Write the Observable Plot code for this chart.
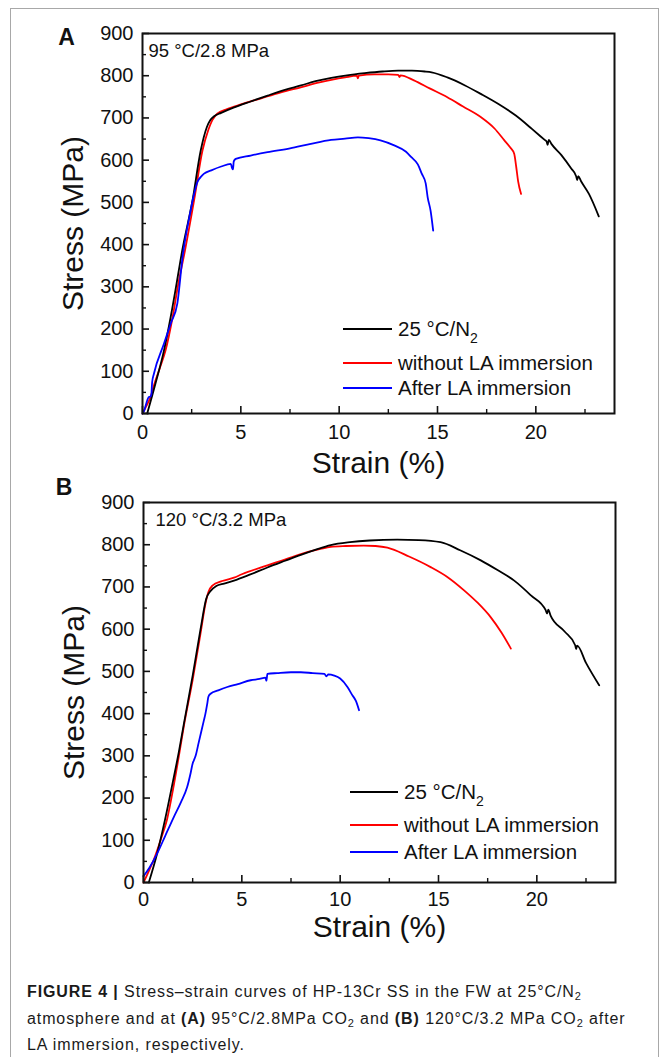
<!DOCTYPE html>
<html><head><meta charset="utf-8">
<script src="https://cdn.jsdelivr.net/npm/d3@7"></script>
<script src="https://cdn.jsdelivr.net/npm/@observablehq/plot@0.6"></script>
<style>
html,body{margin:0;padding:0;background:#fff;width:660px;height:1057px;overflow:hidden;}
#page{position:relative;width:660px;height:1057px;font-family:"Liberation Sans",Arial,sans-serif;color:#111;}
#frame{position:absolute;left:10px;top:8px;width:649px;height:1100px;border:1.5px solid #a8a8a8;box-sizing:border-box;}
.panel{position:absolute;left:0;}
.lg-line{position:absolute;height:2px;}
.lg-text{position:absolute;font-size:20.5px;line-height:20px;white-space:nowrap;color:#111;}
.lg-text sub{font-size:14px;vertical-align:-7px;line-height:0;}
#caption{position:absolute;left:27px;top:979px;width:630px;font-size:16px;line-height:26.5px;letter-spacing:0.9px;color:#1a1a1a;white-space:nowrap;}
#caption sub{font-size:11px;vertical-align:-3px;line-height:0;}
</style></head>
<body><div id="page"><div id="frame"></div></div>
<script>
// ---------- data ----------
const seriesKeys = ["25 °C/N2", "without LA immersion", "After LA immersion"];
const seriesColors = ["#000000", "#ff0000", "#0000ff"];
const panelLetters = ["A", "B"];
const conditionLabels = ["95 °C/2.8 MPa", "120 °C/3.2 MPa"];
const xTicks = [0, 5, 10, 15, 20];
const xMinor = [2.5, 7.5, 12.5, 17.5, 22.5];
const yTicks = [0, 100, 200, 300, 400, 500, 600, 700, 800, 900];
const yMinor = [50, 150, 250, 350, 450, 550, 650, 750, 850];
const xTitle = "Strain (%)";
const yTitle = "Stress (MPa)";

// Panel A
const strainA_N2 = [0.24,0.66,1.09,1.43,1.73,2.02,2.54,2.96,3.27,3.45,3.64,4.0,4.66,5.5,6.36,7.2,8.06,8.8,9.6,10.4,11.3,12.2,13.0,13.7,14.35,14.7,15.5,16.4,17.2,18.1,19.0,19.8,20.45,20.55,20.6,20.66,20.8,21.3,21.8,22.05,22.1,22.16,22.3,22.7,23.2];
const stressA_N2 = [0,71,149,228,307,386,504,623,678,695,704,712,725,739,753,766,777,787,795,801,806,810,812,812,810,808,796,777,757,733,705,674,648,644,636,648,638,612,580,562,553,562,550,520,467];
const strainA_without = [0,0.2,0.41,0.61,0.9,1.17,1.53,1.82,2.16,2.62,3.05,3.35,3.55,3.8,4.3,5.0,6.0,7.0,8.0,9.0,9.6,10.3,10.9,10.95,11.0,11.8,12.5,13.0,13.07,13.12,13.8,14.6,15.5,16.3,17.2,17.9,18.4,18.7,18.9,19.0,19.1,19.25];
const stressA_without = [0,18,39,71,110,149,228,307,386,504,623,672,695,710,721,732,746,760,772,784,790,796,800,794,800,803,803,802,797,801,789,770,749,727,702,675,647,630,615,585,550,520];
const strainA_after = [0,0.07,0.2,0.32,0.4,0.45,0.49,0.58,1.09,1.45,1.77,2.05,2.4,2.65,2.79,3.0,3.13,3.5,4.0,4.49,4.55,4.6,4.64,4.74,5.5,6.36,7.5,8.5,9.59,10.3,10.95,11.5,12.1,12.8,13.4,13.67,14.0,14.2,14.4,14.5,14.65,14.78];
const stressA_after = [0,5,25,39,40,45,74,94,165,215,260,375,470,525,548,562,568,576,585,591,582,578,597,603,611,619,628,638,648,651,654,652,647,635,620,607,590,568,545,512,480,433];

// Panel B
const strainB_N2 = [0.27,0.7,1.1,1.5,1.8,2.05,2.5,2.9,3.19,3.4,3.7,4.1,4.6,5.4,6.3,7.2,8.0,8.8,9.52,10.5,11.5,12.9,14.0,15.1,16.1,17.15,18.0,18.85,19.7,20.45,20.52,20.58,20.7,21.4,21.95,22.0,22.05,22.5,23.17];
const stressB_N2 = [0,70,150,240,310,375,490,600,672,690,702,708,715,729,746,762,776,789,799,806,810,812,811,806,787,763,740,715,680,645,637,646,632,595,562,553,561,520,467];
const strainB_without = [0,0.3,0.53,0.9,1.2,1.5,1.8,2.05,2.5,2.9,3.15,3.3,3.5,4.0,4.6,5.0,6.3,7.0,8.0,9.0,9.52,10.3,11.2,11.8,12.4,13.5,14.6,15.5,16.3,17.0,17.66,18.2,18.68];
const stressB_without = [0,30,55,105,150,220,300,370,480,590,660,688,703,714,722,730,751,762,778,790,795,797,798,797,793,772,747,722,692,662,628,592,554];
const strainB_after = [0,0.3,0.7,1.1,1.54,1.9,2.22,2.4,2.5,2.56,2.65,2.8,3.07,3.15,3.24,3.3,3.41,3.8,4.26,4.8,5.45,5.9,6.2,6.25,6.3,6.8,7.5,8.0,8.6,9.2,9.3,9.4,9.7,10.0,10.37,10.6,10.8,10.96];
const stressB_after = [15,35,69,110,155,190,226,260,282,289,300,330,384,400,423,440,447,455,463,470,479,482,485,478,494,496,498,498,496,494,488,493,490,483,463,445,430,408];

const panelsData = [
  [[strainA_N2, stressA_N2], [strainA_without, stressA_without], [strainA_after, stressA_after]],
  [[strainB_N2, stressB_N2], [strainB_without, stressB_without], [strainB_after, stressB_after]]
];

// ---------- layout ----------
const W = 660, H = 480, MT = 33, MB = 67;
const layouts = [
  {top: 0,   ml: 142, mr: 46, xTitleDy: 50, tickPad: 11, letterDx: -76, letterDy: -5,  condDx: 6,  condDy: 10,
   legLineX: 343, legLineW: 49, legTextX: 398, legY: [329, 363, 388]},
  {top: 469, ml: 143, mr: 45, xTitleDy: 45, tickPad: 9, letterDx: -79.5, letterDy: -24, condDx: 12, condDy: 10.5,
   legLineX: 350, legLineW: 48, legTextX: 404, legY: [792, 825, 851.5]}
];
const FONT = '"Liberation Sans", Arial, Helvetica, sans-serif';
const page = document.getElementById("page");

panelsData.forEach((series, p) => {
  const L = layouts[p];
  const innerW = W - L.ml - L.mr, innerH = H - MT - MB;
  const rows = series.map((s, i) => s[0].map((x, j) => ({strain: x, stress: s[1][j], series: seriesKeys[i]})));
  const lineOrder = [1, 0, 2];
  const chart = Plot.plot({
    width: W, height: H,
    marginLeft: L.ml, marginRight: L.mr, marginTop: MT, marginBottom: MB,
    x: {domain: [0, 24]},
    y: {domain: [0, 900]},
    color: {domain: seriesKeys, range: seriesColors},
    style: {fontFamily: FONT, fontSize: "20px", color: "#111", background: "transparent", overflow: "visible"},
    marks: [
      ...lineOrder.map(i => Plot.line(rows[i], {x: "strain", y: "stress", stroke: "series", strokeWidth: 1.8, strokeLinejoin: "round", curve: "monotone-x"})),
      Plot.tickX(xTicks, {x: d => d, insetTop: innerH - 7, stroke: "#111", strokeWidth: 1.6}),
      Plot.tickX(xMinor, {x: d => d, insetTop: innerH - 4, stroke: "#111", strokeWidth: 1.4}),
      Plot.tickY(yTicks, {y: d => d, insetRight: innerW - 7, stroke: "#111", strokeWidth: 1.6}),
      Plot.tickY(yMinor, {y: d => d, insetRight: innerW - 4, stroke: "#111", strokeWidth: 1.4}),
      Plot.axisX(xTicks, {tickSize: 0, tickPadding: L.tickPad, fontSize: 20, label: null, fill: "#111"}),
      Plot.axisY(yTicks, {tickSize: 0, tickPadding: 9, fontSize: 20, label: null, fill: "#111"}),
      Plot.frame({stroke: "#111", strokeWidth: 2}),
      Plot.text([xTitle], {frameAnchor: "bottom", dy: L.xTitleDy, text: d => d, fontSize: 30, lineAnchor: "middle", textAnchor: "middle", fill: "#111"}),
      Plot.text([yTitle], {frameAnchor: "left", dx: -69, rotate: -90, text: d => d, fontSize: 30, lineAnchor: "middle", textAnchor: "middle", fill: "#111"}),
      Plot.text([panelLetters[p]], {frameAnchor: "top-left", dx: L.letterDx, dy: L.letterDy, text: d => d, fontSize: 23, fontWeight: "bold", lineAnchor: "top", textAnchor: "middle", fill: "#111"}),
      Plot.text([conditionLabels[p]], {frameAnchor: "top-left", dx: L.condDx, dy: L.condDy, text: d => d, fontSize: 18.5, lineAnchor: "top", textAnchor: "start", fill: "#111"})
    ]
  });
  chart.classList.add("panel");
  chart.style.top = L.top + "px";
  chart.style.position = "absolute";
  page.appendChild(chart);

  // legend (overlay inside plot area)
  seriesKeys.forEach((k, i) => {
    const ln = document.createElement("div");
    ln.className = "lg-line";
    ln.style.left = L.legLineX + "px";
    ln.style.width = L.legLineW + "px";
    ln.style.top = (L.legY[i] - 1) + "px";
    ln.style.backgroundColor = seriesColors[i];
    page.appendChild(ln);
    const tx = document.createElement("div");
    tx.className = "lg-text";
    tx.style.left = L.legTextX + "px";
    tx.style.top = (L.legY[i] - 10) + "px";
    if (k.endsWith("N2")) tx.innerHTML = k.slice(0, -1) + "<sub>2</sub>";
    else tx.textContent = k;
    page.appendChild(tx);
  });
});

const cap = document.createElement("div");
cap.id = "caption";
cap.innerHTML = '<b>FIGURE 4 |</b> Stress–strain curves of HP-13Cr SS in the FW at 25°C/N<sub>2</sub><br>' +
  'atmosphere and at <b>(A)</b> 95°C/2.8MPa CO<sub>2</sub> and <b>(B)</b> 120°C/3.2 MPa CO<sub>2</sub> after<br>' +
  'LA immersion, respectively.';
page.appendChild(cap);
</script>
</body></html>
